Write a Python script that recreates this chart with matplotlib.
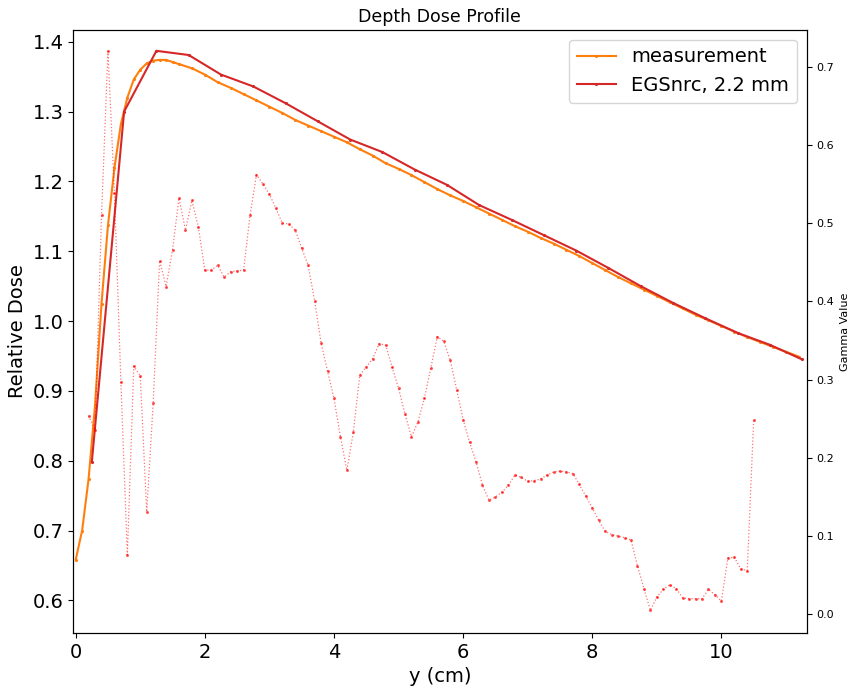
import numpy as np
import matplotlib
matplotlib.use("Agg")
import matplotlib.pyplot as plt

# measurement (water tank scan)
meas_x = [0.0, 0.1, 0.2, 0.3, 0.4, 0.5, 0.6, 0.7, 0.8, 0.9, 1.0, 1.1, 1.2, 1.3, 1.4, 1.5,
          1.6, 1.8, 2.0, 2.2, 2.4, 2.6, 2.8, 3.0, 3.2, 3.4, 3.6, 3.8, 4.0, 4.2, 4.4,
          4.6, 4.8, 5.0, 5.2, 5.4, 5.6, 5.8, 6.0, 6.2, 6.4, 6.6, 6.8, 7.0, 7.2, 7.4,
          7.6, 7.8, 8.0, 8.2, 8.4, 8.6, 8.8, 9.0, 9.2, 9.4, 9.6, 9.8, 10.0, 10.2,
          10.4, 10.6, 10.8, 11.0, 11.2]
meas_dose = [0.658, 0.700, 0.774, 0.880, 1.025, 1.137, 1.219, 1.282, 1.320, 1.346, 1.360,
             1.369, 1.373, 1.374, 1.374, 1.371, 1.368, 1.362, 1.353, 1.342, 1.334, 1.325,
             1.316, 1.307, 1.298, 1.288, 1.280, 1.272, 1.264, 1.256, 1.246, 1.237, 1.226,
             1.218, 1.209, 1.199, 1.189, 1.180, 1.172, 1.163, 1.154, 1.145, 1.136, 1.128,
             1.119, 1.111, 1.102, 1.093, 1.083, 1.073, 1.063, 1.054, 1.045, 1.036, 1.027,
             1.018, 1.009, 1.001, 0.993, 0.985, 0.977, 0.970, 0.963, 0.956, 0.949]

# EGSnrc simulation
sim_x = [0.25, 0.75, 1.25, 1.75, 2.25, 2.75, 3.25, 3.75, 4.25, 4.75, 5.25, 5.75,
         6.25, 6.75, 7.25, 7.75, 8.25, 8.75, 9.25, 9.75, 10.25, 10.75, 11.25]
sim_dose = [0.798, 1.300, 1.387, 1.381, 1.353, 1.336, 1.312, 1.286, 1.260, 1.242,
            1.217, 1.195, 1.166, 1.145, 1.123, 1.101, 1.076, 1.050, 1.026, 1.004,
            0.983, 0.966, 0.945]

# gamma values
gamma_x = np.round(np.arange(0.2, 10.55, 0.1), 2)
gamma = [0.254, 0.236, 0.510, 0.720, 0.539, 0.297, 0.076, 0.317, 0.305, 0.131,
         0.270, 0.452, 0.419, 0.466, 0.532, 0.491, 0.529, 0.495, 0.440, 0.440,
         0.446, 0.431, 0.438, 0.439, 0.440, 0.510, 0.562, 0.550, 0.537, 0.519,
         0.500, 0.499, 0.491, 0.468, 0.446, 0.401, 0.347, 0.311, 0.276, 0.227,
         0.184, 0.233, 0.306, 0.316, 0.327, 0.346, 0.344, 0.316, 0.289, 0.256,
         0.227, 0.246, 0.276, 0.315, 0.355, 0.349, 0.325, 0.287, 0.249, 0.220,
         0.195, 0.165, 0.146, 0.150, 0.156, 0.165, 0.178, 0.175, 0.170, 0.171,
         0.173, 0.178, 0.182, 0.183, 0.182, 0.180, 0.166, 0.151, 0.136, 0.120,
         0.106, 0.102, 0.100, 0.098, 0.095, 0.062, 0.033, 0.005, 0.022, 0.032,
         0.038, 0.033, 0.021, 0.020, 0.020, 0.020, 0.032, 0.025, 0.017, 0.072,
         0.073, 0.058, 0.056, 0.249]

fig = plt.figure(figsize=(8.5, 6.95), dpi=100)
ax = fig.add_axes([0.086, 0.089, 0.863, 0.868])

ax.plot(meas_x, meas_dose, color="#ff7f0e", marker=".", markersize=2.5,
        linewidth=1.5, label="measurement")
ax.plot(sim_x, sim_dose, color="#d62728", marker=".", markersize=2.5,
        linewidth=1.5, label="EGSnrc, 2.2 mm")

ax.set_xlim(-0.04, 11.32)
ax.set_ylim(0.553, 1.417)
ax.set_xticks([0, 2, 4, 6, 8, 10])
ax.set_yticks([0.6, 0.7, 0.8, 0.9, 1.0, 1.1, 1.2, 1.3, 1.4])
ax.tick_params(labelsize=14)
ax.set_xlabel("y (cm)", fontsize=14)
ax.set_ylabel("Relative Dose", fontsize=14)
ax.set_title("Depth Dose Profile", fontsize=12.5)
ax.legend(loc="upper right", fontsize=14)

ax2 = ax.twinx()
ax2.plot(gamma_x, gamma, color="red", alpha=0.55, linestyle=":", linewidth=0.9,
         marker=".", markersize=2.5)
ax2.set_ylim(-0.024, 0.747)
ax2.set_yticks([0.0, 0.1, 0.2, 0.3, 0.4, 0.5, 0.6, 0.7])
ax2.tick_params(labelsize=8)
ax2.set_ylabel("Gamma Value", fontsize=8)

fig.savefig("out.png", dpi=100)
